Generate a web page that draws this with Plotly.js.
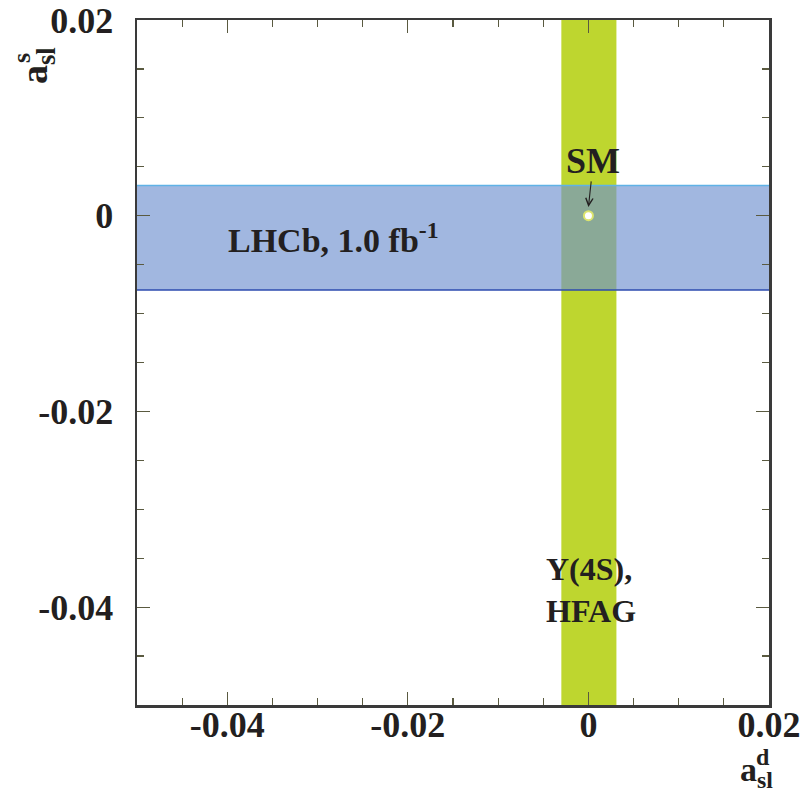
<!DOCTYPE html>
<html>
<head>
<meta charset="utf-8">
<script src="https://cdn.plot.ly/plotly-3.0.1.min.js"></script>
<style>
  html, body { margin: 0; padding: 0; background: #ffffff; }
  #chart { width: 803px; height: 792px; }
</style>
</head>
<body>
<div id="chart"></div>
<script>
// Axis ranges for the semileptonic asymmetries
const xRange = [-0.05, 0.02];   // a_sl^d
const yRange = [-0.05, 0.02];   // a_sl^s

// Measured one-sigma bands
const hfagBand = [-0.0030, 0.0031];   // Υ(4S), HFAG average of a_sl^d
const lhcbBand = [-0.0076, 0.0031];   // LHCb 1.0 fb^-1 measurement of a_sl^s

// Standard Model expectation
const smPoint = { d: [0.0], s: [0.0] };

// Tick labels drawn on both axes
const tickVals = [-0.04, -0.02, 0, 0.02];
const tickText = ['-0.04', '-0.02', '0', '0.02'];

const serif = 'Liberation Serif, Times New Roman, serif';
const ink = '#231f20';

const traces = [
  // vertical HFAG band spanning the full a_sl^s range
  {
    x: [hfagBand[0], hfagBand[1], hfagBand[1], hfagBand[0], hfagBand[0]],
    y: [yRange[0], yRange[0], yRange[1], yRange[1], yRange[0]],
    mode: 'lines', fill: 'toself',
    fillcolor: 'rgb(190,214,47)',
    line: { width: 0, color: 'rgba(0,0,0,0)' },
    hoverinfo: 'skip', showlegend: false
  },
  // horizontal LHCb band spanning the full a_sl^d range
  {
    x: [xRange[0], xRange[1], xRange[1], xRange[0], xRange[0]],
    y: [lhcbBand[0], lhcbBand[0], lhcbBand[1], lhcbBand[1], lhcbBand[0]],
    mode: 'lines', fill: 'toself',
    fillcolor: 'rgba(110,145,208,0.65)',
    line: { width: 0, color: 'rgba(0,0,0,0)' },
    hoverinfo: 'skip', showlegend: false
  },
  // band edges
  {
    x: xRange, y: [lhcbBand[1], lhcbBand[1]],
    mode: 'lines', line: { color: 'rgb(95,178,230)', width: 1.5 },
    hoverinfo: 'skip', showlegend: false
  },
  {
    x: xRange, y: [lhcbBand[0], lhcbBand[0]],
    mode: 'lines', line: { color: 'rgb(45,75,175)', width: 1.5 },
    hoverinfo: 'skip', showlegend: false
  },
  // SM point
  {
    x: smPoint.d, y: smPoint.s,
    mode: 'markers',
    marker: { size: 9, color: '#ffffff', line: { color: 'rgb(220,228,110)', width: 2 } },
    hoverinfo: 'skip', showlegend: false
  }
];

function axisStyle(extra) {
  return Object.assign({
    showgrid: false, zeroline: false,
    showline: true, linecolor: '#3a3a3a', linewidth: 2.5, mirror: 'ticks',
    ticks: 'inside', ticklen: 13, tickwidth: 1.2, tickcolor: '#5a5a40',
    tickmode: 'array', tickvals: tickVals, ticktext: tickText,
    minor: { dtick: 0.005, tick0: 0, ticks: 'inside', ticklen: 7, tickwidth: 1.2, tickcolor: '#5a5a40' },
    tickfont: { family: serif, size: 36, color: ink, weight: 'bold' },
    fixedrange: true
  }, extra);
}

const W = 803, H = 792;
const M = { l: 137, r: 34, t: 20, b: 87 };
const px = v => (v - M.l) / (W - M.l - M.r);
const py = v => (H - M.b - v) / (H - M.t - M.b);

const boldFont = (s) => ({ family: serif, size: s, color: ink, weight: 'bold' });

const layout = {
  width: W, height: H,
  margin: M,
  paper_bgcolor: '#ffffff', plot_bgcolor: '#ffffff',
  showlegend: false,
  xaxis: axisStyle({ range: xRange, ticklabelstandoff: -14 }),
  yaxis: axisStyle({ range: yRange, ticklabelstandoff: 14 }),
  annotations: [
    {
      x: smPoint.d[0], y: smPoint.s[0] + 0.0009, xref: 'x', yref: 'y',
      text: 'SM', font: boldFont(36),
      showarrow: true, arrowhead: 5, arrowsize: 1.3, arrowwidth: 1.1, arrowcolor: ink,
      ax: 5, ay: -46, borderpad: 0
    },
    {
      x: px(333), y: py(238), xref: 'paper', yref: 'paper',
      text: 'LHCb, 1.0 fb<sup>-1</sup>', font: boldFont(34),
      showarrow: false, xanchor: 'center', yanchor: 'middle'
    },
    {
      x: px(544), y: py(590), xref: 'paper', yref: 'paper',
      text: 'Υ(4S),<br>HFAG', font: boldFont(32), align: 'left',
      showarrow: false, xanchor: 'left', yanchor: 'middle'
    },
    // x axis title a_sl^d
    {
      x: px(756), y: py(772), xref: 'paper', yref: 'paper',
      text: 'a<sub>sl</sub>', font: boldFont(34),
      showarrow: false, xanchor: 'center', yanchor: 'middle'
    },
    {
      x: px(763), y: py(757), xref: 'paper', yref: 'paper',
      text: 'd', font: boldFont(24),
      showarrow: false, xanchor: 'center', yanchor: 'middle'
    },
    // y axis title a_sl^s
    {
      x: px(37), y: py(66), xref: 'paper', yref: 'paper',
      text: 'a<sub>sl</sub>', font: boldFont(38), textangle: -90,
      showarrow: false, xanchor: 'center', yanchor: 'middle'
    },
    {
      x: px(22), y: py(58), xref: 'paper', yref: 'paper',
      text: 's', font: boldFont(26), textangle: -90,
      showarrow: false, xanchor: 'center', yanchor: 'middle'
    }
  ]
};

Plotly.newPlot('chart', traces, layout, { staticPlot: true, displayModeBar: false });
</script>
</body>
</html>
